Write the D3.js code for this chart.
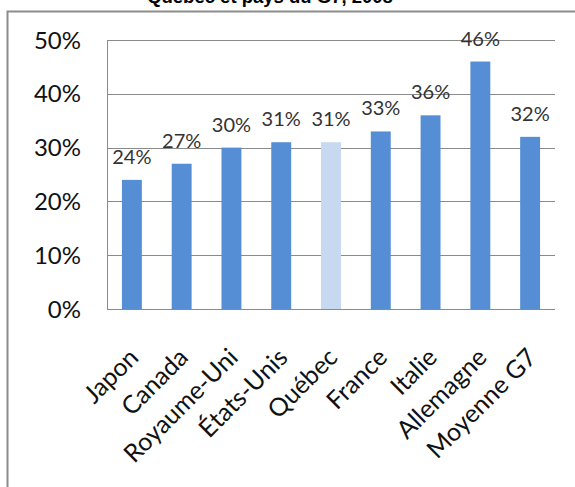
<!DOCTYPE html>
<html>
<head>
<meta charset="utf-8">
<script src="https://cdn.jsdelivr.net/npm/d3@7"></script>
<style>
	body { margin:0; background:#fff; }
	svg { display:block; }
</style>
</head>
<body>
<svg id="chart" width="575" height="487"></svg>
<script>
	var pays = ["Japon","Canada","Royaume-Uni","États-Unis","Québec","France","Italie","Allemagne","Moyenne G7"];
	var taux = [0.24,0.27,0.30,0.31,0.31,0.33,0.36,0.46,0.32];
	var yTicks = [0,0.1,0.2,0.3,0.4,0.5];
	var titre = "Québec et pays du G7, 2008";
	var surligne = "Québec";

	var width = 575, height = 487;
	var plotLeft = 107, plotRight = 555, plotTop = 40, plotBottom = 309;
	var svg = d3.select("#chart");

	svg.append("rect").attr("width",width).attr("height",height).attr("fill","#fff");

	// cadre (coupé à droite et en bas)
	svg.append("rect")
		.attr("x",7.5).attr("y",11.5).attr("width",700).attr("height",600)
		.attr("fill","none").attr("stroke","#8c8c8c").attr("stroke-width",2);

	svg.append("text")
		.attr("x",270).attr("y",3)
		.attr("text-anchor","middle")
		.attr("font-family","'Liberation Sans', Arial, sans-serif")
		.attr("font-weight","bold").attr("font-size",18.5)
		.text(titre);

	var x = d3.scaleBand().domain(pays).range([plotLeft,plotRight]).paddingInner(0.6).paddingOuter(0.3);
	var y = d3.scaleLinear().domain([0,0.5]).range([plotBottom,plotTop]);

	// grille
	svg.append("g").selectAll("line").data(yTicks).enter().append("line")
		.attr("x1",plotLeft).attr("x2",plotRight)
		.attr("y1",function(d){return Math.round(y(d))+0.5})
		.attr("y2",function(d){return Math.round(y(d))+0.5})
		.attr("stroke","#8a8a8a").attr("stroke-width",1);
	svg.append("line")
		.attr("x1",plotLeft+0.5).attr("x2",plotLeft+0.5).attr("y1",y(0.5)).attr("y2",y(0))
		.attr("stroke","#8a8a8a");

	svg.append("g").selectAll("text").data(yTicks).enter().append("text")
		.attr("x",81).attr("y",function(d){return y(d)})
		.attr("dy","0.36em")
		.attr("text-anchor","end")
		.attr("font-family","Lato, sans-serif").attr("font-size",24)
		.attr("fill","#111")
		.text(d3.format(".0%"));

	// barres
	svg.append("g").selectAll("rect").data(taux).enter().append("rect")
		.attr("x",function(d,i){return x(pays[i])})
		.attr("y",function(d){return y(d)})
		.attr("width",x.bandwidth())
		.attr("height",function(d){return y(0)-y(d)})
		.attr("fill",function(d,i){return pays[i]==surligne ? "#c6d9f1" : "#558ed5"});

	svg.append("g").selectAll("text").data(taux).enter().append("text")
		.attr("x",function(d,i){return x(pays[i])+x.bandwidth()/2})
		.attr("y",function(d){return y(d)-16})
		.attr("text-anchor","middle")
		.attr("font-family","Lato, sans-serif").attr("font-size",20)
		.attr("fill","#333")
		.text(d3.format(".0%"));

	svg.append("g").selectAll("text").data(pays).enter().append("text")
		.attr("transform",function(d){return "translate("+(x(d)+x.bandwidth()/2+8)+",359) rotate(-45)"})
		.attr("text-anchor","end")
		.attr("font-family","Lato, sans-serif").attr("font-size",25)
		.attr("fill","#111")
		.text(function(d){return d});
</script>
</body>
</html>
